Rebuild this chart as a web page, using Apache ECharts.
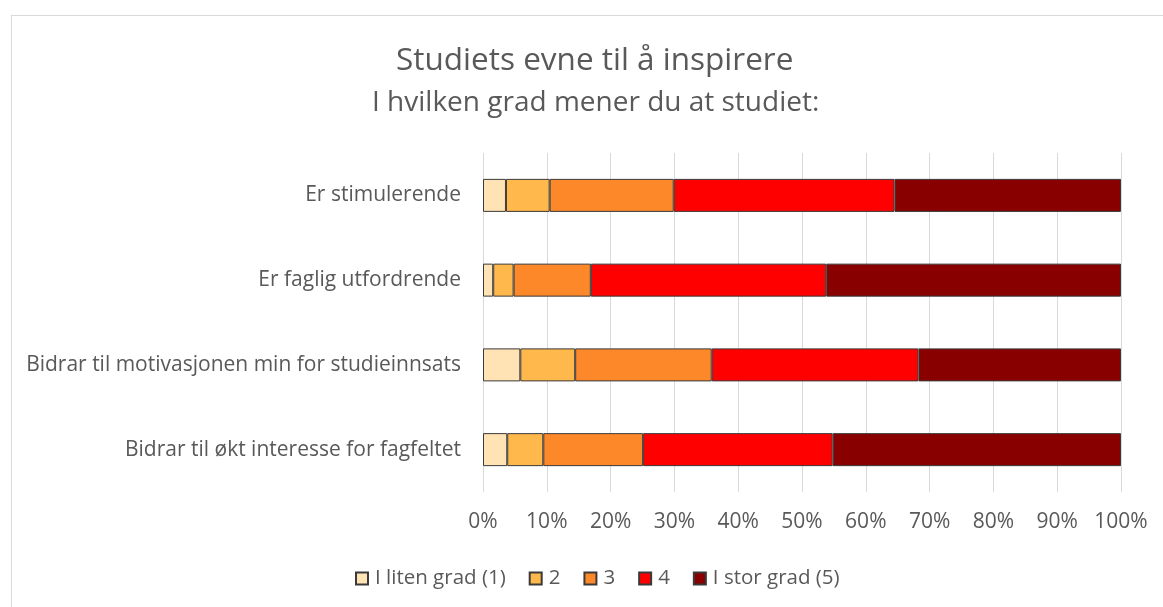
<!DOCTYPE html>
<html>
<head>
<meta charset="utf-8">
<script src="https://cdn.jsdelivr.net/npm/echarts@6/dist/echarts.min.js"></script>
<style>
html,body{margin:0;padding:0;background:#fff;overflow:hidden;}
#frame{position:absolute;left:11px;top:15px;width:1200px;height:650px;border:1px solid #d9d9d9;box-sizing:border-box;}
#chart{position:absolute;left:0;top:0;width:1163px;height:607px;}
</style>
</head>
<body>
<div id="frame"></div>
<div id="chart"></div>
<script>
const categories = ["Er stimulerende", "Er faglig utfordrende", "Bidrar til motivasjonen min for studieinnsats", "Bidrar til økt interesse for fagfeltet"];
const seriesNames = ["I liten grad (1)", "2", "3", "4", "I stor grad (5)"];
const s1 = [3.6, 1.6, 5.85, 3.8];
const s2 = [6.85, 3.2, 8.6, 5.65];
const s3 = [19.45, 12.1, 21.4, 15.65];
const s4 = [34.6, 36.9, 32.4, 29.7];
const s5 = [35.5, 46.2, 31.75, 45.2];
const seriesValues = [s1, s2, s3, s4, s5];
const colors = ["#FFE3B4", "#FFB84B", "#FD882A", "#FF0000", "#880000"];
const titleText = "Studiets evne til å inspirere";
const subtitleText = "I hvilken grad mener du at studiet:";

const FONT = "Open Sans";
const chart = echarts.init(document.getElementById('chart'));
chart.setOption({
  animation: false,
  textStyle: {fontFamily: FONT},
  title: [
    {text: titleText, left: 391, top: 40, textStyle: {fontFamily: FONT, fontSize: 31.5, fontWeight: 'normal', color: '#595959'}},
    {text: subtitleText, left: 367, top: 84, textStyle: {fontFamily: FONT, fontSize: 28, fontWeight: 'normal', color: '#595959'}}
  ],
  grid: {left: 483, right: 42, top: 153, bottom: 115, containLabel: false},
  xAxis: {
    type: 'value', min: 0, max: 100, interval: 10,
    axisLabel: {formatter: v => v + '%', fontSize: 21, color: '#595959', margin: 20, fontFamily: FONT},
    axisLine: {show: false}, axisTick: {show: false},
    splitLine: {lineStyle: {color: '#D9D9D9', width: 1}}
  },
  yAxis: {
    type: 'category', data: categories, inverse: true,
    axisLabel: {fontSize: 21, color: '#595959', margin: 22, fontFamily: FONT},
    axisLine: {show: false}, axisTick: {show: false}
  },
  legend: {
    bottom: 13, left: 350, itemWidth: 12, itemHeight: 12, itemGap: 23,
    icon: 'rect',
    textStyle: {fontSize: 20.5, color: '#595959', fontFamily: FONT, padding: [0,0,0,2]},
    data: seriesNames
  },
  series: seriesNames.map((n, i) => ({
    name: n, type: 'bar', stack: 'total', data: seriesValues[i], barWidth: 33,
    itemStyle: {color: colors[i], borderColor: '#3a3a3a', borderWidth: 1}
  }))
});
</script>
</body>
</html>
